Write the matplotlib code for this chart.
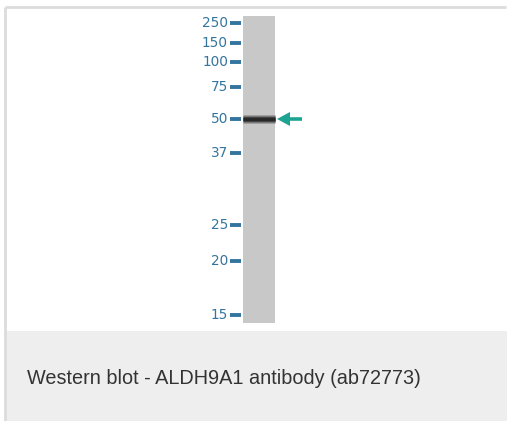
import matplotlib
matplotlib.use("Agg")
import matplotlib.pyplot as plt
from matplotlib.patches import Rectangle, FancyArrow
import numpy as np

# Data read from the blot
marker_kda = ["250", "150", "100", "75", "50", "37", "25", "20", "15"]
marker_pos = [23, 43, 62, 87, 119, 153, 225, 261, 315]   # migration (px from top)
band_pos = [119]                                        # detected band (~52 kDa)
caption = "Western blot - ALDH9A1 antibody (ab72773)"

W, H = 507, 421
fig = plt.figure(figsize=(W / 100, H / 100), dpi=100)
ax = fig.add_axes([0, 0, 1, 1])
ax.set_xlim(0, W)
ax.set_ylim(H, 0)
ax.axis("off")

# frame
ax.add_patch(Rectangle((6, 331), W - 6, H - 331, facecolor="#eeeeee", edgecolor="none"))
ax.plot([5, 5], [7, H], color="#dcdcdc", lw=2, solid_capstyle="butt")
ax.plot([5, 506], [7, 7], color="#dcdcdc", lw=2, solid_capstyle="butt")

# lane
lane_x0, lane_x1 = 243, 275
ax.add_patch(Rectangle((lane_x0, 16), lane_x1 - lane_x0, 323 - 16,
                       facecolor="#c8c8c8", edgecolor="none"))

# band
for y in band_pos:
    for c, lw in [("#a0a0a0", 9), ("#6a6a6a", 6.5), ("#3a3a3a", 4.5), ("#262626", 2.8)]:
        ax.plot([lane_x0, lane_x1], [y, y], color=c, lw=lw * 0.72,
                solid_capstyle="butt")
    # arrow
    ax.add_patch(FancyArrow(302, y, -25, 0, width=3.6, head_width=14, head_length=13,
                            length_includes_head=True, color="#1da392", lw=0))

# markers
mk_color = "#33759e"
for lab, y in zip(marker_kda, marker_pos):
    ax.plot([230, 241], [y, y], color=mk_color, lw=2.8, solid_capstyle="butt")
    ax.text(228, y, lab, ha="right", va="center", fontsize=9.8, color=mk_color,
            family="DejaVu Sans")

ax.text(27, 378, caption, ha="left", va="center", fontsize=14.3, color="#333333",
        family="Liberation Sans")

fig.savefig("out.png", dpi=100, facecolor="white")
